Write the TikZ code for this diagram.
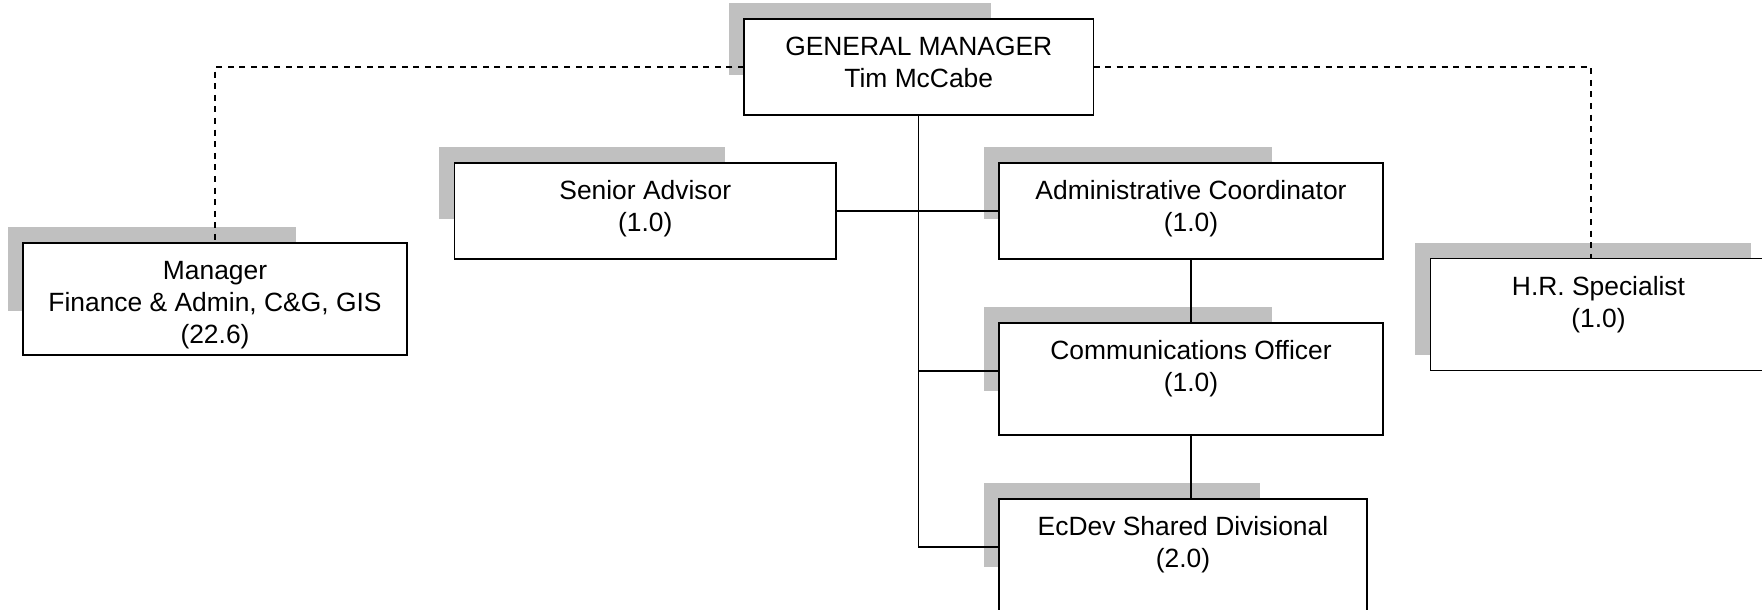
\documentclass[tikz,border=0pt]{standalone}
\usepackage{fontspec}
\setmainfont{Liberation Sans}
\usetikzlibrary{calc}

% drawing order: drop shadows, then connectors, then the white boxes
\pgfdeclarelayer{shadowlayer}
\pgfdeclarelayer{linklayer}
\pgfsetlayers{shadowlayer,linklayer,main}

\definecolor{shadowgray}{HTML}{C0C0C0}

\tikzset{
  orgbox/.style={draw=black, line width=0.85pt, fill=white, rectangle,
                 inner sep=0pt, outer sep=0pt},
  boxlabel/.style={anchor=base, inner sep=0pt, outer sep=0pt,
                   font=\fontsize{13.2}{16}\selectfont},
  solidlink/.style={line width=0.65pt},
  dottedlink/.style={line width=0.6pt, dash pattern=on 3pt off 2.8pt},
  shadowfill/.style={fill=shadowgray},
}

% centred multi-line label whose baseline is that of its first line
\newcommand{\cardtext}[1]{\begin{tabular}[t]{@{}c@{}}#1\end{tabular}}

\begin{document}
\begin{tikzpicture}[x=0.5pt,y=-0.5pt]
\useasboundingbox (0,0) rectangle (1762,610);
\clip (0,0) rectangle (1762,610);

% ---- position boxes ----
\node[orgbox, minimum width=174.75pt, minimum height=48pt] (gm)  at (918.75,67) {};
\node[orgbox, minimum width=190.75pt, minimum height=48pt] (sen) at (645.25,211) {};
\node[orgbox, minimum width=192pt,    minimum height=48pt] (adm) at (1191,211) {};
\node[orgbox, minimum width=192pt,    minimum height=56pt] (mgr) at (215,299) {};
\node[orgbox, minimum width=168pt,    minimum height=56pt] (hr)  at (1598.5,314.5) {};
\node[orgbox, minimum width=192pt,    minimum height=56pt] (com) at (1191,379) {};
\node[orgbox, minimum width=184pt,    minimum height=56pt] (ecd) at (1183,555) {};

% ---- labels ----
\node[boxlabel] (gmlabel)  at ($(gm.north)+(0,36.5)$)  {\cardtext{GENERAL MANAGER\\Tim McCabe}};
\node[boxlabel] (senlabel) at ($(sen.north)+(0,36.5)$) {\cardtext{Senior Advisor\\(1.0)}};
\node[boxlabel] (admlabel) at ($(adm.north)+(0,36.5)$) {\cardtext{Administrative Coordinator\\(1.0)}};
\node[boxlabel] (mgrlabel) at ($(mgr.north)+(0,36.5)$) {\cardtext{Manager\\Finance \& Admin, C\&G, GIS\\(22.6)}};
\node[boxlabel] (hrlabel)  at ($(hr.north)+(0,36.5)$)  {\cardtext{H.R. Specialist\\(1.0)}};
\node[boxlabel] (comlabel) at ($(com.north)+(0,36.5)$) {\cardtext{Communications Officer\\(1.0)}};
\node[boxlabel] (ecdlabel) at ($(ecd.north)+(0,36.5)$) {\cardtext{EcDev Shared Divisional\\(2.0)}};

% ---- grey offset blocks behind the boxes ----
\begin{pgfonlayer}{shadowlayer}
  \foreach \b in {gm,sen,adm,mgr,com,ecd}
    \fill[shadowfill] ($(\b.north west)+(-15.5,-16)$)
      rectangle ($(\b.north west)!0.75!(\b.south east)+(-15.5,-16)$);
  \fill[shadowfill] ($(hr.north west)+(-15.5,-16)$)
    rectangle ($(hr.south east)+(-15.5,-16)$);
\end{pgfonlayer}

% ---- reporting lines ----
\coordinate (comin) at ($(com.west)+(0,-8)$);
\coordinate (ecdin) at ($(ecd.west)+(0,-8)$);
\coordinate (hrin)  at ($(hr.north)+(-7.5,0)$);
\begin{pgfonlayer}{linklayer}
  \draw[solidlink] (gm.south) -- (gm.south |- ecdin) -- (ecdin);
  \draw[solidlink] (gm.south |- comin) -- (comin);
  \draw[solidlink] (sen.east) -- (adm.west);
  \draw[solidlink] (adm.south) -- (com.north);
  \draw[solidlink] (com.south) -- (com.south |- ecd.north);
  \draw[dottedlink] (gm.west) -| (mgr.north);
  \draw[dottedlink] (gm.east) -| (hrin);
\end{pgfonlayer}
\end{tikzpicture}
\end{document}
